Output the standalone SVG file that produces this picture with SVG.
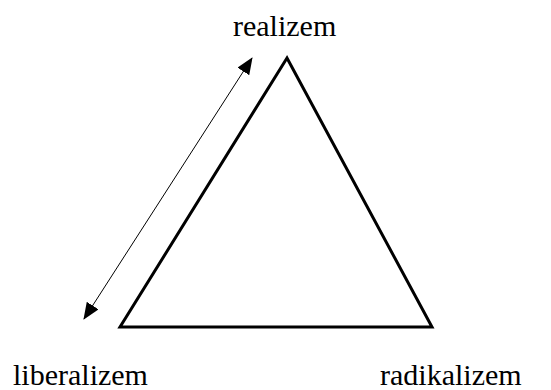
<svg xmlns="http://www.w3.org/2000/svg" width="551" height="390" viewBox="0 0 551 390">
<style>
text{font-family:"Liberation Serif","Times New Roman",serif;font-size:30px;fill:#000}
</style>
<defs>
<marker id="ah" markerWidth="17" markerHeight="14" refX="16" refY="7" orient="auto-start-reverse" markerUnits="userSpaceOnUse">
<path d="M0,0 L17,7 L0,14 Z" fill="#000"/>
</marker>
</defs>
<rect width="551" height="390" fill="#fff"/>
<g id="triangle">
<polygon points="287,58 120,327 432,327" fill="none" stroke="#000" stroke-width="3" stroke-linejoin="miter"/>
</g>
<g id="realizem"><text x="233" y="36">realizem</text></g>
<g id="liberalizem"><text x="13" y="385">liberalizem</text></g>
<g id="radikalizem"><text x="380" y="385">radikalizem</text></g>
<g id="connectors">
<line x1="84" y1="319" x2="252" y2="58" stroke="#000" stroke-width="1" marker-start="url(#ah)" marker-end="url(#ah)"/>
</g>
</svg>
